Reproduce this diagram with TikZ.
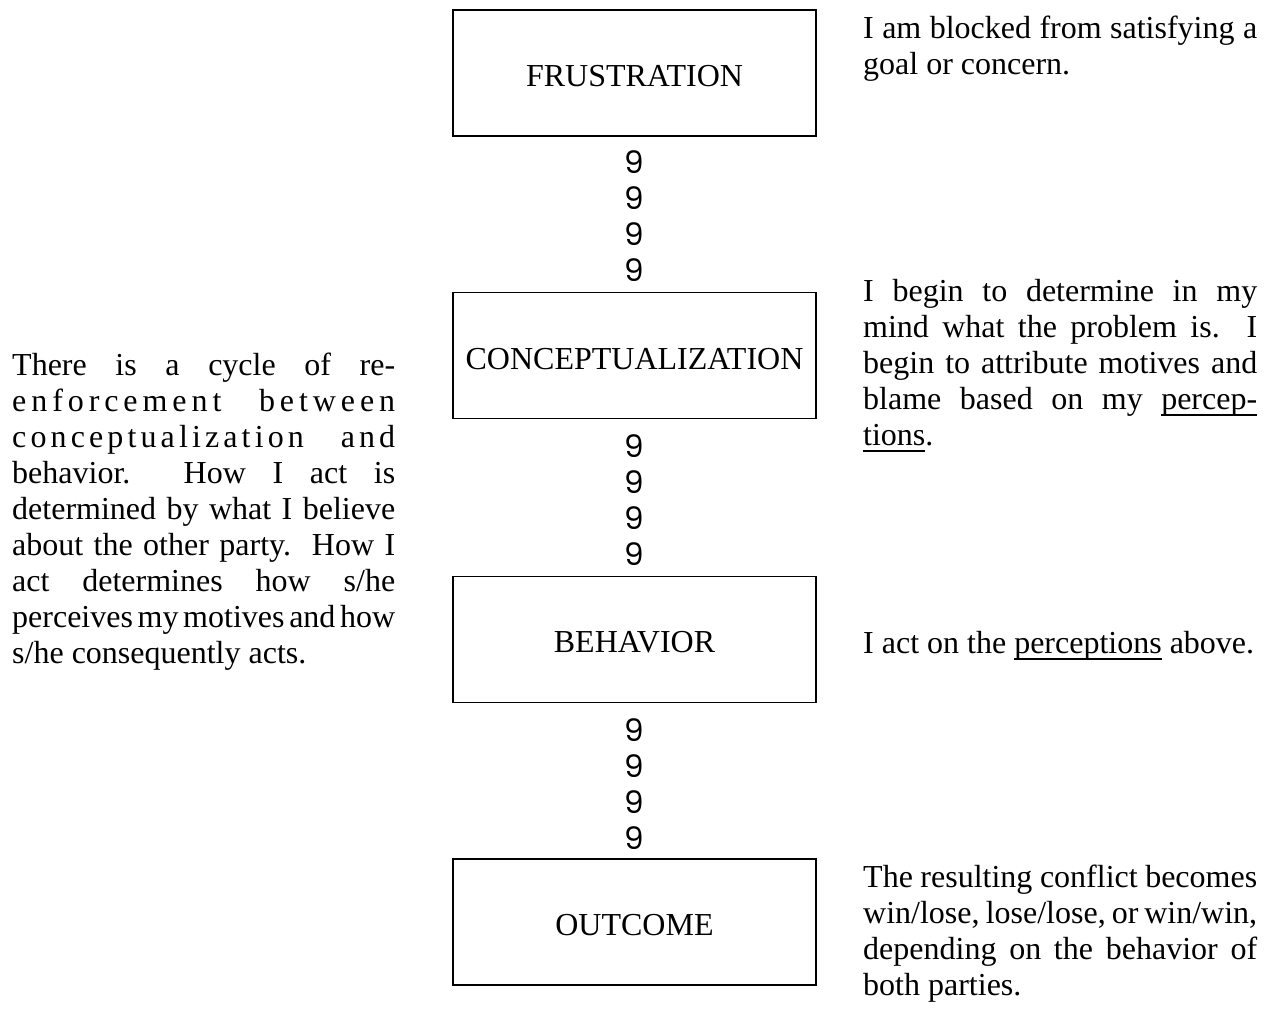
\documentclass[tikz,border=0pt]{standalone}
\usepackage{fontspec}
\setmainfont{Liberation Serif}
\newfontfamily\ninefont{Poppins}
\newsavebox\ulbox
\newcommand\myul[1]{\sbox\ulbox{#1}\rlap{\rule[-6.5pt]{\wd\ulbox}{1.4pt}}\usebox\ulbox}
\newcommand\jl[1]{\makebox[\linewidth][s]{#1}}
\newcommand\lsp{\hfil}
\newcommand\wsp[1]{\ \hskip 0pt plus #1fil\relax}
\newcommand\tsp{\hskip 4pt plus 1fil\relax}
\newcommand\tsz{\fontsize{32}{36}\selectfont}
\begin{document}
\begin{tikzpicture}[x=1pt,y=1pt,
  stage/.style={draw, line width=1.2pt, minimum width=363pt, minimum height=126pt, inner sep=0pt},
  lbl/.style={font=\tsz, inner sep=0pt, anchor=base},
  nine/.style={font=\ninefont\fontsize{31}{36}\selectfont, inner sep=0pt, anchor=base},
  blk/.style={anchor=base west, inner sep=0pt, font=\tsz}]
\path[use as bounding box, fill=white] (0,0) rectangle (1270,-1013);

% boxes
\node[stage] (f) at (634.5,-73) {};
\node[stage] (c) at (634.5,-355.5) {};
\node[stage] (b) at (634.5,-639.5) {};
\node[stage] (o) at (634.5,-922) {};

\node[lbl] (fl) at (634.5,-86) {FRUSTRATION};
\node[lbl] (cl) at (634.5,-369) {CONCEPTUALIZATION};
\node[lbl] (bl) at (634.5,-652.5) {BEHAVIOR};
\node[lbl] (ol) at (634.5,-935) {OUTCOME};

% nines
\foreach \n/\y in {a1/173,a2/209,a3/245,a4/281,b1/457,b2/493,b3/529,b4/565,c1/741,c2/777,c3/813,c4/849}
  \node[nine] (n\n) at (634,-\y) {9};

% right texts
\node[blk] (t1) at (863,-38) {\parbox[t]{394pt}{\tsz\parindent0pt
\jl{I am blocked from satisfying a}\\
goal or concern.}};

\node[blk] (t2) at (863,-301) {\parbox[t]{394pt}{\tsz\parindent0pt
\jl{I begin to determine in my}\\
\jl{mind what the problem is.\ \ I}\\
\jl{begin to attribute motives and}\\
\jl{blame based on my \myul{percep-}}\\
\myul{tions}.}};

\node[blk] (t3) at (863,-653) {\parbox[t]{400pt}{\tsz\parindent0pt
I act on the \myul{perceptions} above.}};

\node[blk] (t4) at (863,-887) {\parbox[t]{394pt}{\tsz\parindent0pt
\jl{The resulting conflict becomes}\\
\jl{win/lose, lose/lose, or win/win,}\\
\jl{depending on the behavior of}\\
both parties.}};

% left text
\node[blk] (tl) at (12,-375) {\parbox[t]{383pt}{\tsz\parindent0pt
\jl{There is a cycle of re-}\\
\jl{e\lsp n\lsp f\lsp o\lsp r\lsp c\lsp e\lsp m\lsp e\lsp n\lsp t\wsp{6}b\lsp e\lsp t\lsp w\lsp e\lsp e\lsp n}\\
\jl{c\lsp o\lsp n\lsp c\lsp e\lsp p\lsp t\lsp u\lsp a\lsp l\lsp i\lsp z\lsp a\lsp t\lsp i\lsp o\lsp n\wsp{7}a\lsp n\lsp d}\\
\jl{behavior.\ \ How I act is}\\
\jl{determined by what I believe}\\
\jl{about the other party.\ \ How I}\\
\jl{act determines how s/he}\\
\jl{perceives\tsp my\tsp motives\tsp and\tsp how}\\
s/he consequently acts.}};
\end{tikzpicture}
\end{document}
